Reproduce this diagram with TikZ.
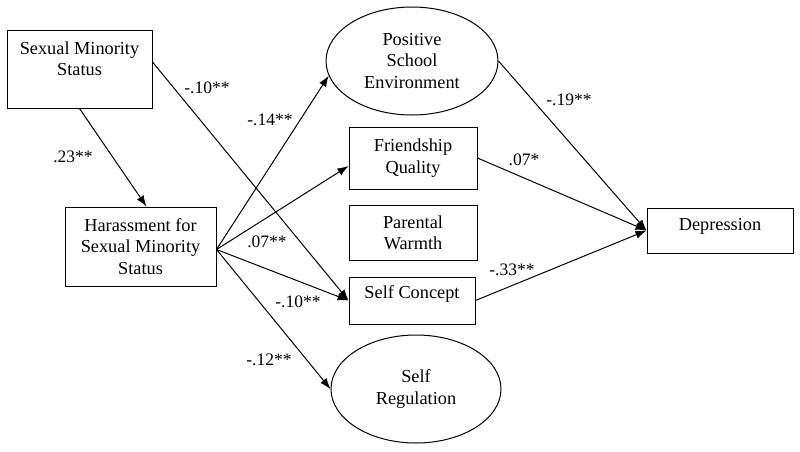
\documentclass[tikz,border=0pt]{standalone}
\usepackage{fontspec}
\setmainfont{Liberation Serif}
\usetikzlibrary{shapes.geometric,arrows.meta}
\tikzset{
  box/.style={draw, line width=1pt, rectangle, inner sep=0pt},
  oval/.style={draw, line width=1pt, ellipse, inner sep=0pt, align=center,
    font=\fontsize{18.3}{21.3}\selectfont},
  txt/.style={align=center, inner sep=0pt, font=\fontsize{18.3}{21.3}\selectfont},
  lab/.style={inner sep=0pt, font=\fontsize{17.5}{20}\selectfont},
  arr/.style={line width=1pt, -{Latex[length=11pt,width=8pt]}},
}
\begin{document}
\begin{tikzpicture}[x=1pt,y=-1pt]
\useasboundingbox (0,0) rectangle (800,451);
% nodes
\node[box, minimum width=145, minimum height=78] (sms) at (79.5,69) {};
\node[txt] (smst) at (79.5,59) {Sexual Minority\\Status};
\node[box, txt, minimum width=151, minimum height=79] (har) at (140.5,246.5) {Harassment for\\Sexual Minority\\Status};
\node[oval, minimum width=172, minimum height=108] (pse) at (412,61) {Positive\\School\\Environment};
\node[box, txt, minimum width=128, minimum height=62] (fq) at (413,158) {Friendship\\Quality};
\node[box, txt, minimum width=128, minimum height=55] (pw) at (413,232.5) {Parental\\Warmth};
\node[box, minimum width=126, minimum height=47] (sc) at (412,300.5) {};
\node[txt] (sct) at (412,294) {Self Concept};
\node[oval, minimum width=170, minimum height=108] (sr) at (416,389) {Self\\Regulation};
\node[box, minimum width=146, minimum height=45] (dep) at (720,230.5) {};
\node[txt] (dept) at (720,226) {Depression};
% connectors
\coordinate (hs) at ([yshift=-3pt]har.east);
\draw[arr] (sms.south) -- ([xshift=6pt]har.north);
\draw[arr] ([yshift=7pt]sms.east) -- (sc.west);
\draw[arr] (hs) -- (pse.190);
\draw[arr] (hs) -- ([yshift=-8pt]fq.west);
\draw[arr] (hs) -- (sc.west);
\draw[arr] (hs) -- (sr.west);
\draw[arr] (pse.east) -- (dep.west);
\draw[arr] (fq.east) -- (dep.west);
\draw[arr] (sc.east) -- (dep.west);
% labels
\node[lab] (l1) at (73,157) {.23**};
\node[lab] (l2) at (207,88) {-.10**};
\node[lab] (l3) at (270,120) {-.14**};
\node[lab] (l4) at (267,242) {.07**};
\node[lab] (l5) at (298,302) {-.10**};
\node[lab] (l6) at (269,360) {-.12**};
\node[lab] (l7) at (569,100) {-.19**};
\node[lab] (l8) at (524,160) {.07*};
\node[lab] (l9) at (512,270) {-.33**};
\end{tikzpicture}
\end{document}
